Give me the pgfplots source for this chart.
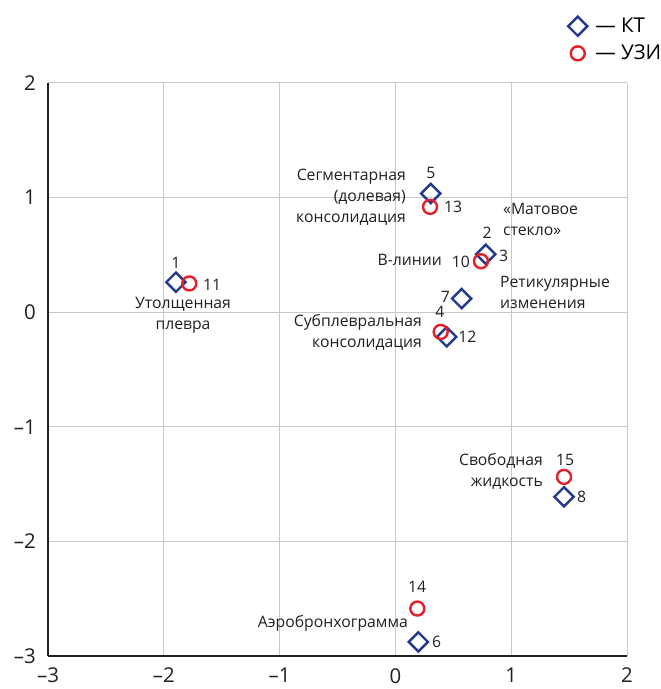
\documentclass[border=0pt]{standalone}
\usepackage{pgfplots}
\pgfplotsset{compat=1.18}
\usepackage{fontspec}
\setmainfont{Open Sans}
\definecolor{ktblue}{HTML}{233A8F}
\definecolor{uzired}{HTML}{E3202A}
\definecolor{axdark}{HTML}{231F20}
\definecolor{gridgray}{HTML}{C8C8C8}
\newcommand{\ann}{\fontsize{15.8}{21}\selectfont}
\begin{document}
\begin{tikzpicture}
\useasboundingbox (-48bp,-33bp) rectangle (613bp,656bp);
\begin{axis}[
  scale only axis,
  width=579bp, height=573bp,
  xmin=-3, xmax=2, ymin=-3, ymax=2,
  enlargelimits=false,
  axis x line*=bottom, axis y line*=left,
  axis line style={-, line width=2.5bp, draw=axdark},
  xtick={-3,-2,-1,0,1,2}, ytick={-3,-2,-1,0,1,2},
  xticklabels={–3,–2,–1,0,1,2},
  yticklabels={–3,–2,–1,0,1,2},
  major tick length=0pt,
  grid=major,
  major grid style={draw=gridgray, line width=1bp},
  tick label style={font=\fontsize{20.5}{24}\selectfont, text=axdark},
  xticklabel style={inner sep=0pt, yshift=-12bp},
  yticklabel style={inner sep=0pt, xshift=-12bp},
  clip=false,
  legend style={at={(rel axis cs:0.898,1.117)}, anchor=north west, draw=none, fill=none,
    font=\fontsize{20.5}{24}\selectfont, row sep=7bp, inner sep=0pt},
  legend cell align=left,
]
\addplot[only marks, mark=square, mark size=6.8bp, mark options={rotate=45, draw=ktblue, line width=2.4bp}]
  coordinates {(-1.895,0.262) (0.305,1.036) (0.780,0.506) (0.572,0.119) (0.443,-0.215) (1.456,-1.611) (0.198,-2.877)};
\addlegendentry{\hspace{6bp}— КТ}
\addplot[only marks, mark=o, mark size=7bp, mark options={draw=uzired, line width=2.4bp}]
  coordinates {(-1.780,0.251) (0.299,0.919) (0.739,0.445) (0.391,-0.172) (1.456,-1.437) (0.189,-2.586)};
\addlegendentry{\hspace{6bp}— УЗИ}

\begin{scope}[every node/.style={inner sep=0pt, font=\ann, text=axdark}]
\node at (axis cs:-1.895,0.428) {1};
\node[anchor=west] at (axis cs:-1.662,0.236) {11};
\node[align=center] at (axis cs:-1.834,-0.026) {Утолщенная\\плевра};
\node at (axis cs:0.307,1.213) {5};
\node[anchor=west] at (axis cs:0.420,0.916) {13};
\node[anchor=east, align=right] at (axis cs:0.092,1.003) {Сегментарная\\(долевая)\\консолидация};
\node[anchor=west, align=left] at (axis cs:0.929,0.812) {«Матовое\\стекло»};
\node at (axis cs:0.791,0.689) {2};
\node[anchor=west] at (axis cs:0.895,0.489) {3};
\node[anchor=east] at (axis cs:0.644,0.436) {10};
\node[anchor=east] at (axis cs:0.402,0.454) {В-линии};
\node[anchor=west, align=left] at (axis cs:0.903,0.175) {Ретикулярные\\изменения};
\node[anchor=east] at (axis cs:0.472,0.131) {7};
\node at (axis cs:0.385,0.0) {4};
\node[anchor=west] at (axis cs:0.541,-0.218) {12};
\node[anchor=east, align=right] at (axis cs:0.230,-0.175) {Субплевральная\\консолидация};
\node[anchor=east, align=right] at (axis cs:1.275,-1.387) {Свободная\\жидкость};
\node at (axis cs:1.465,-1.291) {15};
\node[anchor=west] at (axis cs:1.568,-1.614) {8};
\node at (axis cs:0.187,-2.400) {14};
\node[anchor=east] at (axis cs:0.109,-2.714) {Аэробронхограмма};
\node[anchor=west] at (axis cs:0.316,-2.880) {6};
\end{scope}
\end{axis}
\end{tikzpicture}
\end{document}
